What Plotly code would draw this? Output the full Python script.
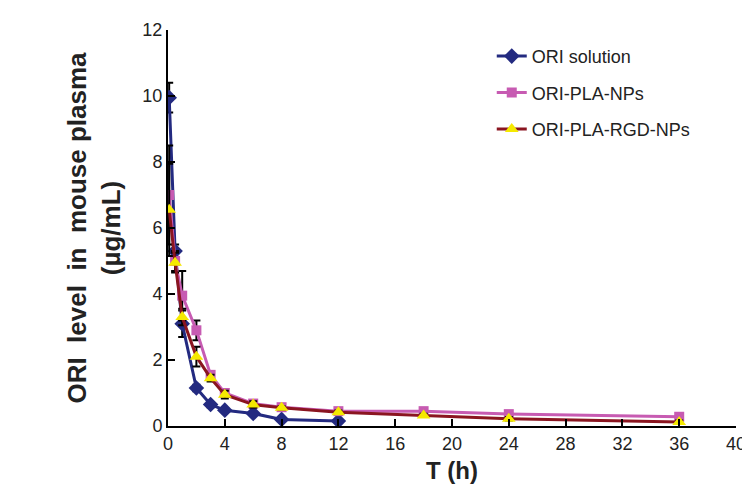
import plotly.graph_objects as go

# time points (h)
t_sol = [0.083, 0.5, 1, 2, 3, 4, 6, 8, 12]
t_np = [0.083, 0.5, 1, 2, 3, 4, 6, 8, 12, 18, 24, 36]

# ORI concentration in plasma (ug/mL)
ori_solution = [9.95, 5.3, 3.1, 1.15, 0.65, 0.48, 0.38, 0.2, 0.15]
ori_solution_sd = [0.45, 0.2, 0.4, 0.1, 0.08, 0.05, 0.05, 0.05, 0.03]

ori_pla_nps = [7.0, 5.0, 3.95, 2.9, 1.55, 1.0, 0.68, 0.57, 0.45, 0.45, 0.36, 0.28]
ori_pla_nps_sd = [1.5, 0.3, 0.75, 0.3, 0.1, 0.1, 0.08, 0.05, 0.05, 0.05, 0.05, 0.05]

ori_pla_rgd_nps = [6.55, 4.95, 3.3, 2.1, 1.45, 0.95, 0.65, 0.55, 0.42, 0.32, 0.22, 0.12]
ori_pla_rgd_nps_sd = [1.4, 0.3, 0.25, 0.3, 0.1, 0.12, 0.1, 0.05, 0.05, 0.05, 0.05, 0.05]

FONT = "Liberation Sans, Arial, sans-serif"
TXT = '#222222'

fig = go.Figure()

err = dict(type='data', color='black', thickness=2, width=4)

# ORI solution
fig.add_trace(go.Scatter(
    x=t_sol, y=ori_solution, name='ORI solution', mode='lines+markers',
    legendgroup='a',
    line=dict(color='#232a80', width=3),
    marker=dict(symbol='diamond', size=12, color='#232a80'),
    error_y=dict(array=ori_solution_sd, **err)
))

# ORI-PLA-NPs
fig.add_trace(go.Scatter(
    x=t_np, y=ori_pla_nps, name='ORI-PLA-NPs', mode='lines+markers',
    legendgroup='b',
    line=dict(color='#c75bb2', width=3),
    marker=dict(symbol='square', size=10, color='#c75bb2'),
    error_y=dict(array=ori_pla_nps_sd, **err)
))

# ORI-PLA-RGD-NPs
fig.add_trace(go.Scatter(
    x=t_np, y=ori_pla_rgd_nps, name='ORI-PLA-RGD-NPs', mode='lines+markers',
    legendgroup='c',
    line=dict(color='#8a1520', width=3),
    marker=dict(symbol='triangle-up', size=12, color='#f5e900'),
    error_y=dict(array=ori_pla_rgd_nps_sd, **err)
))

fig.update_layout(
    width=750, height=498,
    margin=dict(l=160, r=18, t=16, b=80),
    plot_bgcolor='white',
    paper_bgcolor='white',
    font=dict(family=FONT, size=18, color=TXT),
    showlegend=True,
    legend=dict(
        x=0.57, y=0.98, xanchor='left', yanchor='top',
        font=dict(family=FONT, size=18, color=TXT),
        bgcolor='rgba(0,0,0,0)', tracegroupgap=10
    )
)

fig.update_xaxes(
    range=[0, 40], dtick=4, tick0=0,
    showline=True, linecolor='black', linewidth=2,
    ticks='inside', ticklen=7, tickwidth=2, tickcolor='black',
    showgrid=False, zeroline=False,
    title=dict(text='<b>T (h)</b>', font=dict(family=FONT, size=24, color=TXT), standoff=10)
)

fig.update_yaxes(
    range=[0, 12], dtick=2, tick0=0,
    showline=True, linecolor='black', linewidth=2,
    ticks='inside', ticklen=7, tickwidth=2, tickcolor='black',
    showgrid=False, zeroline=False,
    title=dict(text='<b>ORI  level  in  mouse plasma<br>(µg/mL)</b>',
               font=dict(family=FONT, size=26, color=TXT), standoff=14)
)

fig.write_html("out.html")
